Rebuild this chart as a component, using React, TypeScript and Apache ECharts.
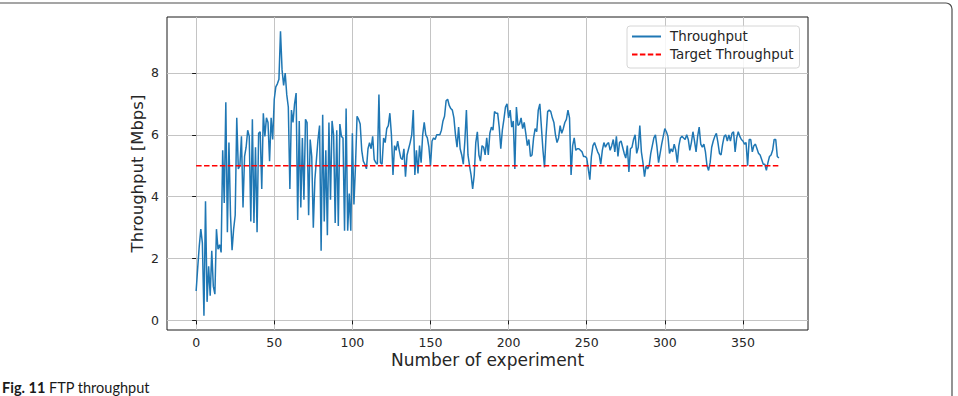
import React, { useEffect, useRef } from "react";
import * as echarts from "echarts";

// Measured FTP throughput per experiment (Mbps), experiments 0..373
const throughput: number[] = [
  0.95, 1.7, 2.4, 2.95, 2.5, 0.15, 3.85, 0.6, 1.75, 0.8,
  2.25, 1.1, 0.85, 2.95, 2.3, 2.45, 2.2, 5.5, 3.8, 7.05,
  2.85, 5.75, 3.4, 2.27, 2.95, 3.4, 6.55, 4.9, 5.0, 5.95,
  3.65, 5.3, 5.6, 6.15, 5.95, 3.2, 6.5, 3.15, 5.6, 2.85,
  6.05, 6.1, 4.25, 6.7, 5.95, 6.55, 6.4, 5.15, 6.55, 5.85,
  7.15, 7.55, 7.65, 7.8, 9.35, 8.1, 7.6, 8.0, 7.3, 6.9,
  4.25, 6.8, 6.4, 7.0, 7.35, 3.25, 6.45, 3.65, 5.9, 3.9,
  6.5, 6.4, 3.4, 5.85, 5.3, 3.0, 4.55, 5.2, 5.85, 6.3,
  2.25, 6.65, 3.2, 5.5, 2.75, 6.4, 3.9, 6.45, 6.0, 3.15,
  6.15, 3.05, 6.35, 5.95, 5.9, 2.9, 6.85, 2.9, 4.1, 2.9,
  6.05, 3.75, 5.0, 6.6, 6.5, 6.35, 5.5, 5.15, 5.05, 4.9,
  5.55, 5.75, 5.55, 5.95, 5.2, 5.1, 5.05, 7.3, 5.1, 5.05,
  5.9, 5.75, 6.2, 6.3, 6.7, 6.0, 4.7, 5.65, 5.5, 5.8,
  5.5, 5.25, 5.2, 5.55, 4.65, 5.35, 5.55, 5.75, 6.0, 6.8,
  4.7, 5.5, 4.75, 5.65, 5.1, 6.0, 6.4, 6.0, 5.9, 5.6,
  5.0, 5.8, 5.9, 5.85, 6.0, 6.0, 6.0, 6.15, 6.45, 6.6,
  7.1, 7.15, 6.95, 6.85, 6.8, 6.55, 6.0, 5.6, 6.25, 5.55,
  5.35, 5.05, 5.8, 6.8, 5.35, 5.0, 4.7, 4.25, 4.7, 5.75,
  6.1, 5.35, 5.15, 5.65, 5.6, 5.35, 5.9, 5.35, 6.05, 6.25,
  6.15, 6.75, 6.7, 6.7, 6.25, 5.55, 6.15, 6.5, 6.9, 7.0,
  6.55, 6.8, 6.25, 6.45, 4.9, 6.9, 6.3, 6.35, 6.55, 6.2,
  6.4, 6.05, 5.65, 5.85, 5.3, 5.35, 5.9, 6.2, 6.1, 6.8,
  7.0, 6.25, 5.5, 4.95, 6.0, 6.75, 6.8, 6.75, 6.55, 6.4,
  6.0, 5.75, 5.9, 6.3, 6.05, 6.2, 6.4, 6.5, 6.8, 6.55,
  4.7, 5.65, 5.9, 5.5, 5.55, 5.55, 5.5, 5.45, 5.3, 5.3,
  5.25, 4.9, 4.55, 5.3, 5.65, 5.75, 5.6, 5.45, 5.35, 5.05,
  5.5, 5.75, 5.6, 5.7, 5.75, 5.5, 5.65, 5.85, 5.45, 5.95,
  5.3, 5.75, 5.8, 5.6, 5.4, 5.25, 5.65, 4.8, 5.55, 5.6,
  5.85, 6.0, 5.4, 5.6, 6.3, 5.45, 5.1, 4.65, 5.0, 4.9,
  5.0, 5.4, 5.65, 5.9, 6.0, 5.6, 5.1, 5.4, 5.7, 5.95,
  6.2, 6.1, 5.95, 5.4, 5.55, 5.45, 5.7, 5.5, 5.1, 5.65,
  5.9, 5.95, 5.9, 5.85, 6.0, 5.85, 5.5, 5.75, 6.1, 5.8,
  5.45, 5.95, 6.25, 5.7, 5.6, 5.7, 5.45, 5.0, 4.85, 5.1,
  5.6, 5.8, 5.95, 6.05, 5.75, 5.4, 5.35, 5.7, 5.95, 6.0,
  5.8, 6.0, 5.8, 6.05, 6.1, 5.45, 5.9, 6.1, 5.95, 5.85,
  5.8, 5.7, 5.75, 5.0, 5.85, 5.85, 5.45, 5.65, 5.7, 5.55,
  5.4, 5.35, 5.2, 5.05, 5.05, 4.85, 5.1, 5.3, 5.35, 5.5,
  5.85, 5.85, 5.3, 5.25,
];

const TARGET_MBPS = 5;

const xTicks = [0, 50, 100, 150, 200, 250, 300, 350];
const yTicks = [0, 2, 4, 6, 8];

// axis extents with a 5% margin around the data
const X_MIN = -18.65;
const X_MAX = 391.65;
const Y_MIN = -0.31;
const Y_MAX = 9.81;

const MPL_FONT = "'DejaVu Sans', sans-serif";
const TEXT_COLOR = "#262626";

export default function App() {
  const ref = useRef<HTMLDivElement>(null);

  useEffect(() => {
    if (!ref.current) return;
    const chart = echarts.init(ref.current, null, { renderer: "svg" });
    const last = throughput.length - 1;

    chart.setOption({
      animation: false,
      backgroundColor: "#ffffff",
      grid: {
        left: 167,
        top: 17,
        width: 641,
        height: 313,
        show: true,
        borderColor: "#1a1a1a",
        borderWidth: 1,
        backgroundColor: "transparent",
      },
      xAxis: {
        type: "value",
        min: X_MIN,
        max: X_MAX,
        splitNumber: 8,
        axisLine: { show: false },
        axisTick: {
          show: true,
          length: 4,
          customValues: xTicks,
          lineStyle: { color: "#1a1a1a", width: 1 },
        },
        axisLabel: {
          customValues: xTicks,
          margin: 6,
          fontSize: 12.5,
          fontFamily: MPL_FONT,
          color: TEXT_COLOR,
          formatter: (v: number) => (xTicks.includes(v) ? String(v) : ""),
        },
        splitLine: { show: true, lineStyle: { color: "#c4c4c4", width: 1 } },
        name: "Number of experiment",
        nameLocation: "middle",
        nameGap: 21,
        nameMoveOverlap: false,
        nameTextStyle: { fontSize: 17, fontFamily: MPL_FONT, color: TEXT_COLOR },
      },
      yAxis: {
        type: "value",
        min: Y_MIN,
        max: Y_MAX,
        splitNumber: 5,
        axisLine: { show: false },
        axisTick: {
          show: true,
          length: 4,
          customValues: yTicks,
          lineStyle: { color: "#1a1a1a", width: 1 },
        },
        axisLabel: {
          customValues: yTicks,
          margin: 8,
          fontSize: 12.5,
          fontFamily: MPL_FONT,
          color: TEXT_COLOR,
          formatter: (v: number) => (yTicks.includes(v) ? String(v) : ""),
        },
        splitLine: { show: true, lineStyle: { color: "#c4c4c4", width: 1 } },
        name: "Throughput [Mbps]",
        nameLocation: "middle",
        nameRotate: 90,
        nameGap: 21,
        nameMoveOverlap: false,
        nameTextStyle: { fontSize: 16.5, fontFamily: MPL_FONT, color: TEXT_COLOR },
      },
      legend: {
        orient: "vertical",
        left: 627,
        top: 26,
        padding: [4, 6, 7, 4],
        itemGap: 5,
        itemWidth: 29,
        itemHeight: 14,
        backgroundColor: "rgba(255,255,255,0.85)",
        borderColor: "#d6d6d6",
        borderWidth: 1,
        borderRadius: 3,
        itemStyle: { opacity: 0 },
        textStyle: {
          fontSize: 13.4,
          fontFamily: MPL_FONT,
          color: TEXT_COLOR,
          padding: [0, 0, 0, 4],
        },
        data: ["Throughput", "Target Throughput"],
      },
      series: [
        {
          name: "Throughput",
          type: "line",
          data: throughput.map((v, i) => [i, v]),
          symbol: "none",
          showSymbol: false,
          lineStyle: { color: "#1f77b4", width: 1.5 },
          itemStyle: { color: "#1f77b4" },
        },
        {
          name: "Target Throughput",
          type: "line",
          data: [
            [0, TARGET_MBPS],
            [last, TARGET_MBPS],
          ],
          symbol: "none",
          showSymbol: false,
          lineStyle: { color: "#ff0000", width: 1.7, type: [5.5, 2.4] },
          itemStyle: { color: "#ff0000" },
        },
      ],
      graphic: [
        {
          type: "rect",
          silent: true,
          shape: { x: -10, y: 3, width: 962, height: 450, r: 6 },
          style: { fill: "none", stroke: "#4d4d4d", lineWidth: 1.2 },
        },
        {
          type: "text",
          silent: true,
          x: 2,
          y: 387,
          style: {
            text: "{b|Fig. 11} FTP throughput",
            font: "14.5px Lato, 'Noto Sans', sans-serif",
            fill: "#1a1a1a",
            verticalAlign: "middle",
            rich: {
              b: {
                fontWeight: "bold",
                fontSize: 14.5,
                fontFamily: "Lato, 'Noto Sans', sans-serif",
                fill: "#1a1a1a",
              },
            },
          },
        },
      ],
    });

    return () => chart.dispose();
  }, []);

  return (
    <div
      ref={ref}
      style={{ position: "fixed", left: 0, top: 0, width: 958, height: 396 }}
    />
  );
}
